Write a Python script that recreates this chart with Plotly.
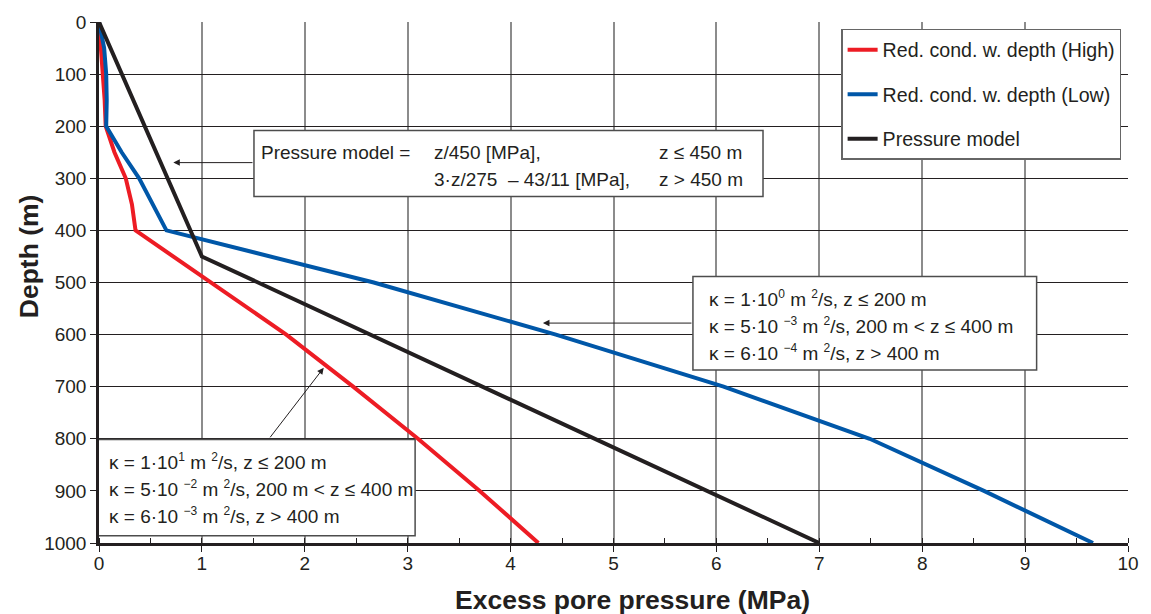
import plotly.graph_objects as go

# Depth (m) and excess pore pressure (MPa) for each case
depth_high = [0, 50, 100, 150, 200, 250, 300, 350, 400, 500, 600, 700, 800, 900, 1000]
pressure_high = [0, 0.02, 0.04, 0.055, 0.065, 0.15, 0.26, 0.32, 0.355, 1.08, 1.82, 2.47, 3.10, 3.70, 4.27]

depth_low = [0, 50, 100, 150, 200, 250, 300, 350, 400, 500, 600, 700, 800, 900, 1000]
pressure_low = [0, 0.05, 0.07, 0.075, 0.07, 0.22, 0.39, 0.52, 0.655, 2.67, 4.44, 6.07, 7.49, 8.60, 9.66]

# Pressure model: z/450 for z <= 450 m, 3z/275 - 43/11 for z > 450 m
depth_model = [0, 450, 1000]
pressure_model = [0, 1, 7]

series_names = ["Red. cond. w. depth (High)", "Red. cond. w. depth (Low)", "Pressure model"]
series_colors = ["#ed1c24", "#0057a8", "#231f20"]

x_ticks = list(range(0, 11))
y_ticks = list(range(0, 1001, 100))

TEXT = "#231f20"
FONT = "Liberation Sans, Arial, sans-serif"

fig = go.Figure()
for i, (x, y) in enumerate([(pressure_high, depth_high),
                            (pressure_low, depth_low),
                            (pressure_model, depth_model)]):
    fig.add_trace(go.Scatter(
        x=x, y=y, mode="lines", name=series_names[i],
        legendgroup=f"g{i}",
        line=dict(color=series_colors[i], width=4),
    ))

box_line = dict(color="#4d4d4d", width=1.5)
# text boxes
fig.add_shape(type="rect", xref="x", yref="y", x0=1.506, x1=6.453, y0=208.4, y1=334.7,
              line=box_line, fillcolor="white", layer="above")
fig.add_shape(type="rect", xref="x", yref="y", x0=5.772, x1=9.112, y0=488.4, y1=668,
              line=box_line, fillcolor="white", layer="above")
fig.add_shape(type="rect", xref="x", yref="y", x0=-0.026, x1=3.072, y0=801.3, y1=986.1,
              line=box_line, fillcolor="white", layer="above")

annots = []

def txt(x, y, s):
    annots.append(dict(x=x, y=y, xref="x", yref="y", text=s, showarrow=False,
                       xanchor="left", yanchor="middle",
                       font=dict(family=FONT, size=19, color=TEXT)))

def arrow(x, y, ax, ay):
    annots.append(dict(x=x, y=y, ax=ax, ay=ay, xref="x", yref="y", axref="x", ayref="y",
                       text="", showarrow=True, arrowhead=2, arrowsize=1.3,
                       arrowwidth=1, arrowcolor="#231f20"))

def sup(s):
    return f"<sup><span style='font-size:12px'>{s}</span></sup>"

txt(1.555, 250.5, "Pressure model =")
txt(3.238, 250.5, "z/450 [MPa],")
txt(5.42, 250.5, "z ≤ 450 m")
txt(3.238, 303, "3·z/275 &nbsp;– 43/11 [MPa],")
txt(5.42, 303, "z &gt; 450 m")
arrow(0.722, 269.9, 1.506, 269.9)

txt(5.904, 530.3, f"κ = 1·10{sup('0')} m {sup('2')}/s, z ≤ 200 m")
txt(5.904, 582.9, f"κ = 5·10 {sup('−3')} m {sup('2')}/s, 200 m &lt; z ≤ 400 m")
txt(5.904, 635.0, f"κ = 6·10 {sup('−4')} m {sup('2')}/s, z &gt; 400 m")
arrow(4.314, 577.9, 5.772, 577.9)

txt(0.0765, 842.7, f"κ = 1·10{sup('1')} m {sup('2')}/s, z ≤ 200 m")
txt(0.0765, 895.2, f"κ = 5·10 {sup('−2')} m {sup('2')}/s, 200 m &lt; z ≤ 400 m")
txt(0.0765, 947.4, f"κ = 6·10 {sup('−3')} m {sup('2')}/s, z &gt; 400 m")
arrow(2.184, 663.6, 1.652, 800)

# axis titles
annots.append(dict(x=0.518, y=-0.1086, xref="paper", yref="paper", yanchor="middle",
                   text="<b>Excess pore pressure (MPa)</b>", showarrow=False,
                   font=dict(family=FONT, size=26.5, color=TEXT)))
annots.append(dict(x=-0.068, y=0.5505, xref="paper", yref="paper", xanchor="center",
                   yanchor="middle",
                   text="<b>Depth (m)</b>", showarrow=False, textangle=-90,
                   font=dict(family=FONT, size=26.5, color=TEXT)))

fig.update_layout(
    width=1151, height=614,
    margin=dict(l=99, r=19, t=18, b=71),
    paper_bgcolor="white", plot_bgcolor="white",
    font=dict(family=FONT, size=19, color=TEXT),
    showlegend=True,
    legend=dict(x=0.7212, y=0.9867, xanchor="left", yanchor="top",
                bgcolor="white", bordercolor="#666666", borderwidth=1.5,
                font=dict(family=FONT, size=19.6, color=TEXT),
                tracegroupgap=16, itemwidth=30),
    annotations=annots,
)

fig.update_xaxes(
    range=[0, 10], tickvals=x_ticks, ticktext=[str(v) for v in x_ticks],
    showgrid=True, gridcolor="#8c8c8c", gridwidth=1.5, zeroline=False,
    showline=True, linecolor="#231f20", linewidth=2.5,
    ticks="outside", ticklen=6, tickwidth=1.2, tickcolor="#231f20",
    ticklabelstandoff=-5,
    minor=dict(dtick=0.5, ticks="inside", ticklen=5, tickwidth=1, tickcolor="#231f20", showgrid=False),
    tickfont=dict(family=FONT, size=19, color=TEXT),
)
fig.update_yaxes(
    range=[1000, 0], tickvals=y_ticks, ticktext=[str(v) for v in y_ticks],
    showgrid=True, gridcolor="#231f20", gridwidth=1, zeroline=False,
    showline=True, linecolor="#231f20", linewidth=2.5,
    ticks="outside", ticklen=6, tickwidth=1.2, tickcolor="#231f20",
    tickfont=dict(family=FONT, size=19, color=TEXT),
)

fig.write_html("out.html")
